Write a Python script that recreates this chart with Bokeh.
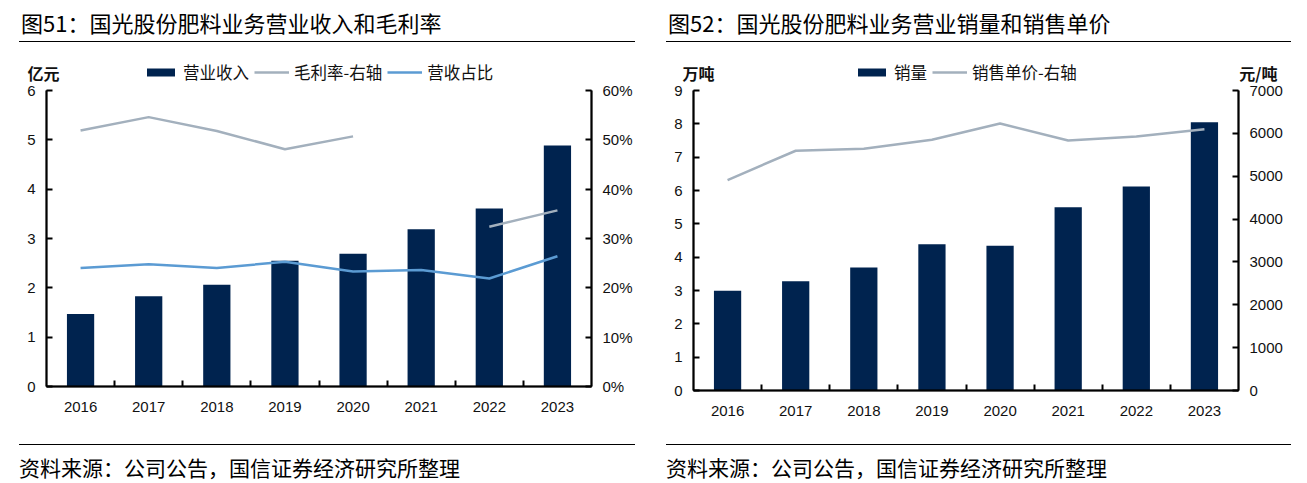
from bokeh.plotting import figure
from bokeh.models import (Range1d, LinearAxis, FixedTicker, NumeralTickFormatter,
                          Legend, LegendItem, Label, Div, ColumnDataSource)
from bokeh.layouts import row, column
from bokeh.embed import file_html
from bokeh.resources import INLINE

# ---------------- data ----------------
years = ["2016", "2017", "2018", "2019", "2020", "2021", "2022", "2023"]
revenue = [1.47, 1.83, 2.06, 2.55, 2.69, 3.19, 3.61, 4.885]          # 亿元
gross_margin = [0.519, 0.546, 0.518, 0.481, 0.507, float("nan"), 0.324, 0.357]
revenue_share = [0.240, 0.248, 0.240, 0.253, 0.233, 0.236, 0.219, 0.264]
volume = [2.99, 3.28, 3.69, 4.39, 4.34, 5.50, 6.12, 8.05]              # 万吨
price = [4911, 5594, 5640, 5850, 6230, 5834, 5927, 6098]               # 元/吨

left_ticks_1 = [0, 1, 2, 3, 4, 5, 6]
right_ticks_1 = [0, 0.1, 0.2, 0.3, 0.4, 0.5, 0.6]
left_ticks_2 = [0, 1, 2, 3, 4, 5, 6, 7, 8, 9]
right_ticks_2 = [0, 1000, 2000, 3000, 4000, 5000, 6000, 7000]

title1 = "图51：国光股份肥料业务营业收入和毛利率"
title2 = "图52：国光股份肥料业务营业销量和销售单价"
source_text = "资料来源：公司公告，国信证券经济研究所整理"

# ---------------- style ----------------
NAVY = "#00234f"
GRAY = "#a3b0bd"
BLUE = "#5b9bd3"
AX = "#000000"
CJK = "Noto Sans CJK SC"
NUM = "Liberation Sans"

N = len(years)
xs = [i + 0.5 for i in range(N)]
bounds = list(range(1, N))
PX = 545.0 / N          # pixels per category

FIG_TOP = 50            # page y of figure top
FIG_H = 390
FRAME_T = 58            # page y of frame top
FRAME_B = 432           # page y of frame bottom


def style_axis(ax):
    ax.axis_line_color = AX
    ax.axis_line_width = 2
    ax.axis_line_alpha = 1.0
    ax.major_tick_line_color = AX
    ax.major_tick_line_width = 2
    ax.major_tick_in = 6
    ax.major_tick_out = 0
    ax.minor_tick_line_color = None
    ax.major_label_text_font = NUM
    ax.major_label_text_font_size = "15px"
    ax.major_label_text_color = "#111111"
    ax.major_label_standoff = 11


def make_panel(ymax, yticks, y2max, y2ticks, y2fmt, frame_l, frame_r, axis_l, axis_r,
               axis_b, axis_t, fig_x0, fig_w):
    ppu = (axis_b - axis_t) / ymax                  # pixels per y unit
    y0 = -(FRAME_B - axis_b) / ppu
    y1 = ymax + (axis_t - FRAME_T) / ppu
    x0 = -(axis_l - frame_l) / PX
    x1 = N + (frame_r - axis_r) / PX
    k = y2max / ymax
    p = figure(width=fig_w, height=FIG_H, x_range=Range1d(x0, x1),
               y_range=Range1d(y0, y1), x_axis_type=None, y_axis_type=None,
               output_backend="svg", toolbar_location=None,
               min_border_left=frame_l - fig_x0, min_border_right=fig_x0 + fig_w - frame_r,
               min_border_top=FRAME_T - FIG_TOP, min_border_bottom=FIG_TOP + FIG_H - FRAME_B,
               outline_line_color=None, background_fill_color="white",
               border_fill_color="white", margin=0)
    p.xgrid.visible = False
    p.ygrid.visible = False
    p.extra_y_ranges = {"r": Range1d(y0 * k, y1 * k)}

    ya = LinearAxis(ticker=FixedTicker(ticks=yticks), bounds=(0, ymax), fixed_location=0)
    style_axis(ya)
    p.add_layout(ya, "left")
    yb = LinearAxis(y_range_name="r", ticker=FixedTicker(ticks=y2ticks), bounds=(0, y2max),
                    fixed_location=N)
    if y2fmt is not None:
        yb.formatter = y2fmt
    style_axis(yb)
    p.add_layout(yb, "right")

    xa = LinearAxis(ticker=FixedTicker(ticks=xs, minor_ticks=bounds), bounds=(0, N),
                    fixed_location=0,
                    major_label_overrides={x: y for x, y in zip(xs, years)})
    style_axis(xa)
    xa.major_tick_line_color = None
    xa.minor_tick_line_color = AX
    xa.minor_tick_line_width = 2
    xa.minor_tick_in = 6
    xa.minor_tick_out = 0
    xa.major_label_standoff = 15
    p.add_layout(xa, "below")
    return p


def axis_frame(p, ymax):
    # axis rules along the bounds of the three axes (left, right, bottom)
    p.segment(x0=[0, N, 0], y0=[0, 0, 0], x1=[0, N, N], y1=[ymax, ymax, 0],
              line_color=AX, line_width=1.5)


def unit_label(p, text, x, y, align="left"):
    p.add_layout(Label(x=x, y=y, x_units="screen", y_units="screen", text=text,
                       text_font=CJK, text_font_size="16px",
                       text_font_style="bold", text_align=align,
                       text_baseline="middle", text_color="#111111"))


def make_legend(items, loc):
    return Legend(items=items, orientation="horizontal", location=loc,
                  glyph_width=35, glyph_height=10, label_standoff=5, spacing=5,
                  padding=0, margin=0, border_line_color=None, background_fill_alpha=0,
                  label_text_font=CJK, label_text_font_size="16.5px",
                  label_text_color="#111111")


# ---------------- figure 1 ----------------
FL1 = 18
p1 = make_panel(6, left_ticks_1, 0.6, right_ticks_1, NumeralTickFormatter(format="0%"),
                frame_l=FL1, frame_r=640, axis_l=46, axis_r=591, axis_b=386, axis_t=90,
                fig_x0=0, fig_w=645)
src1 = ColumnDataSource(dict(x=xs, rev=revenue, gm=gross_margin, share=revenue_share))
b1 = p1.vbar(x="x", top="rev", width=0.4, source=src1, fill_color=NAVY, line_color=None)
g1 = p1.line("x", "gm", source=src1, y_range_name="r", line_color=GRAY, line_width=2.5)
s1 = p1.line("x", "share", source=src1, y_range_name="r", line_color=BLUE, line_width=2.5)
axis_frame(p1, max(left_ticks_1))
p1.add_layout(make_legend([LegendItem(label="营业收入", renderers=[b1]),
                           LegendItem(label="毛利率-右轴", renderers=[g1]),
                           LegendItem(label="营收占比", renderers=[s1])],
                          (147 - 4 - FL1, FRAME_B - 84)))
unit_label(p1, "亿元", 27 - FL1, FRAME_B - 72)

# ---------------- figure 2 ----------------
FL2 = 665
p2 = make_panel(9, left_ticks_2, 7000, right_ticks_2, None,
                frame_l=FL2, frame_r=1288, axis_l=693, axis_r=1238, axis_b=390, axis_t=90,
                fig_x0=645, fig_w=646)
src2 = ColumnDataSource(dict(x=xs, vol=volume, price=price))
b2 = p2.vbar(x="x", top="vol", width=0.4, source=src2, fill_color=NAVY, line_color=None)
g2 = p2.line("x", "price", source=src2, y_range_name="r", line_color=GRAY, line_width=2.5)
axis_frame(p2, max(left_ticks_2))
p2.add_layout(make_legend([LegendItem(label="销量", renderers=[b2]),
                           LegendItem(label="销售单价-右轴", renderers=[g2])],
                          (858 - 4 - FL2, FRAME_B - 84)))
unit_label(p2, "万吨", 682 - FL2, FRAME_B - 72)
unit_label(p2, "元/吨", 1277 - FL2, FRAME_B - 72, align="right")


# ---------------- headers / footers ----------------
def header(text, tleft, rleft, rule_w, width):
    html = (f'<div style="position:relative;width:{width}px;height:50px;font-family:\'{CJK}\';">'
            f'<div style="position:absolute;left:{tleft}px;top:7px;font-size:22px;line-height:30px;'
            f'color:#000;white-space:nowrap;">{text}</div>'
            f'<div style="position:absolute;left:{rleft}px;top:41px;width:{rule_w}px;height:0;'
            f'border-top:1.5px solid #000;"></div></div>')
    return Div(text=html, width=width, height=50, margin=0)


def footer(text, tleft, rleft, rule_w, width):
    html = (f'<div style="position:relative;width:{width}px;height:43px;font-family:\'{CJK}\';">'
            f'<div style="position:absolute;left:{rleft}px;top:4px;width:{rule_w}px;height:0;'
            f'border-top:1.5px solid #000;"></div>'
            f'<div style="position:absolute;left:{tleft}px;top:13px;font-size:21px;line-height:28px;'
            f'color:#000;white-space:nowrap;">{text}</div></div>')
    return Div(text=html, width=width, height=43, margin=0)


col1 = column(header(title1, 21, 19, 616, 645), p1, footer(source_text, 19, 19, 616, 645), spacing=0)
col2 = column(header(title2, 23, 21, 625, 646), p2, footer(source_text, 21, 21, 625, 646), spacing=0)
layout = row(col1, col2, spacing=0)

open("out.html", "w").write(file_html(layout, INLINE))
